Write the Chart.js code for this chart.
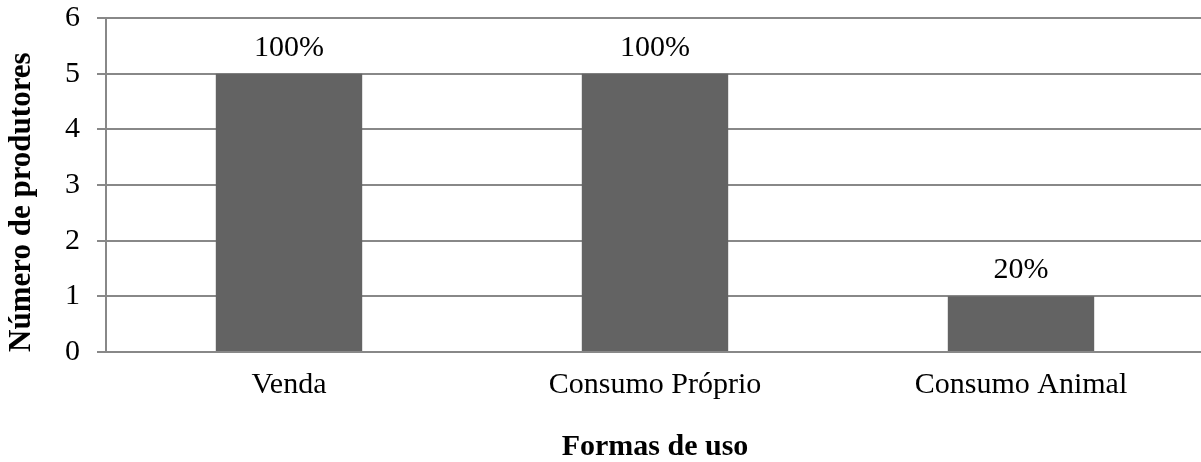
<!DOCTYPE html>
<html>
<head>
<meta charset="utf-8">
<script src="https://cdn.jsdelivr.net/npm/chart.js@4/dist/chart.umd.min.js"></script>
<style>
  html, body { margin: 0; padding: 0; background: #fff; overflow: hidden; }
  #wrap { width: 1204px; height: 462px; }
</style>
</head>
<body>
<div id="wrap"><canvas id="c" width="1204" height="462"></canvas></div>
<script>
// Formas de uso e número de produtores
const categories = ['Venda', 'Consumo Próprio', 'Consumo Animal'];
const produtores = [5, 5, 1];
const percentuais = ['100%', '100%', '20%'];
const yTicks = [0, 1, 2, 3, 4, 5, 6];

const SERIF = '"Liberation Serif", "Times New Roman", serif';
const GRID = '#888888';

// Percentage written above each bar
const barLabels = {
  id: 'barLabels',
  afterDatasetsDraw(chart) {
    const { ctx } = chart;
    const meta = chart.getDatasetMeta(0);
    ctx.save();
    ctx.font = '30px ' + SERIF;
    ctx.fillStyle = '#000';
    ctx.textAlign = 'center';
    ctx.textBaseline = 'alphabetic';
    meta.data.forEach((bar, i) => {
      ctx.fillText(percentuais[i], bar.x, bar.y - 18);
    });
    ctx.restore();
  }
};

new Chart(document.getElementById('c'), {
  type: 'bar',
  data: {
    labels: categories,
    datasets: [{
      data: produtores,
      backgroundColor: '#636363',
      borderWidth: 0,
      barPercentage: 0.4,
      categoryPercentage: 1.0
    }]
  },
  options: {
    responsive: false,
    animation: false,
    events: [],
    layout: { padding: { top: 18, right: 0, bottom: 0, left: 0 } },
    plugins: {
      legend: { display: false },
      tooltip: { enabled: false }
    },
    scales: {
      x: {
        offset: true,
        grid: { display: false, drawTicks: false },
        border: { display: true, color: GRID, width: 2 },
        ticks: {
          color: '#000',
          font: { family: SERIF, size: 30 },
          padding: 15,
          maxRotation: 0
        },
        title: {
          display: true,
          text: 'Formas de uso',
          color: '#000',
          font: { family: SERIF, size: 30, weight: 'bold', lineHeight: 1 },
          padding: { top: 0, bottom: 0 }
        },
        afterFit(scale) {
          scale.height = 110;
          scale.paddingLeft = 0;
          scale.paddingRight = 0;
        }
      },
      y: {
        min: 0,
        max: 6,
        afterBuildTicks(scale) {
          scale.ticks = yTicks.map(v => ({ value: v }));
        },
        grid: { color: GRID, lineWidth: 2, tickLength: 9, drawTicks: true },
        border: { display: true, color: GRID, width: 2 },
        ticks: {
          color: '#000',
          font: { family: SERIF, size: 30 },
          padding: 17
        },
        title: {
          display: true,
          text: 'Número de produtores',
          align: 'start',
          color: '#000',
          font: { family: SERIF, size: 31, weight: 'bold', lineHeight: 1 },
          padding: { top: 6, bottom: 0 }
        },
        afterFit(scale) {
          scale.width = 106;
          scale.paddingTop = 0;
          scale.paddingBottom = 0;
        }
      }
    }
  },
  plugins: [barLabels]
});
</script>
</body>
</html>
